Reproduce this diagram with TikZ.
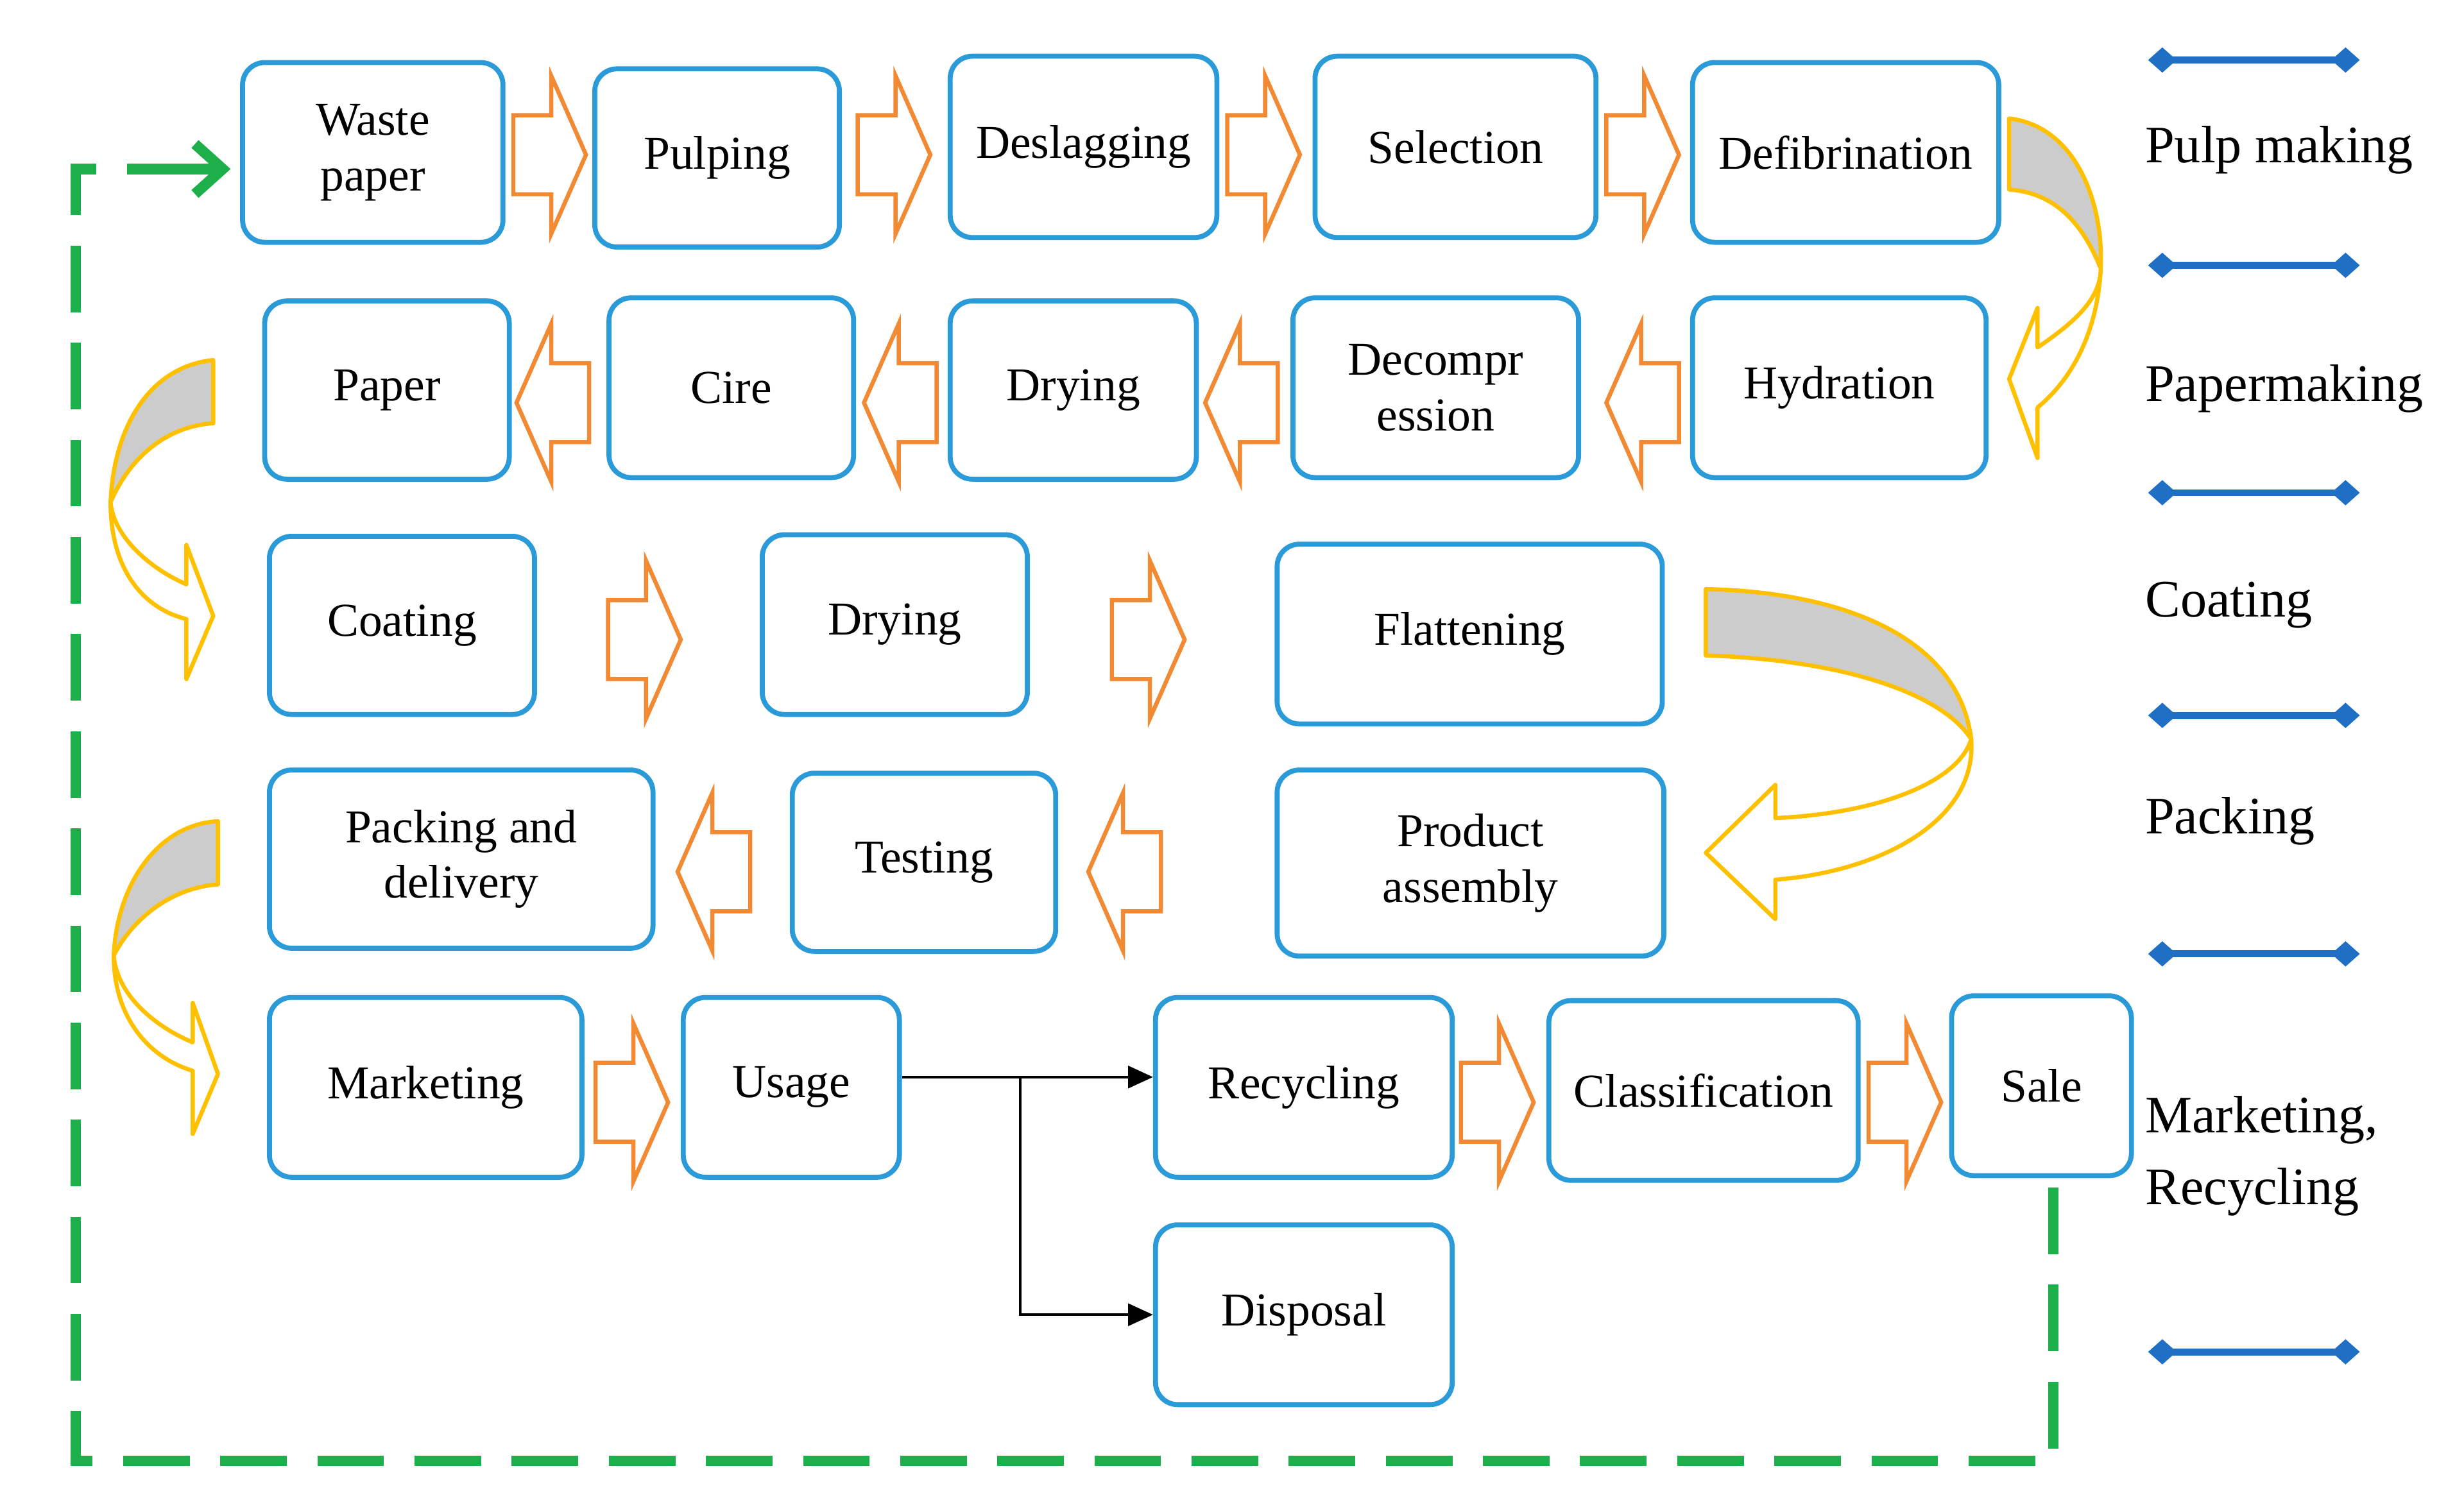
\documentclass[tikz,border=0pt]{standalone}
\usepackage{fontspec}
\setmainfont{Liberation Serif}
\usetikzlibrary{arrows.meta}
\definecolor{bblue}{HTML}{2A9AD8}
\definecolor{oor}{HTML}{F28A33}
\definecolor{yel}{HTML}{FFC000}
\definecolor{lblue}{HTML}{1F6FC5}
\definecolor{ggreen}{HTML}{1DB04A}
\tikzset{
 box/.style={draw=bblue,line width=1.8pt,rounded corners=8pt,align=center,font=\fontsize{17}{20}\selectfont,inner sep=0pt},
 oarr/.style={draw=oor,line width=1.5pt,fill=white,line join=miter},
 carr/.style={draw=yel,line width=1.5pt},
 leg/.style={draw=lblue,line width=2.5pt},
 legt/.style={anchor=west,font=\fontsize{19}{26}\selectfont,align=left},
 rarr/.pic={\draw[oarr] (-23,-25)--(1,-25)--(1,-50)--(23,0)--(1,50)--(1,25)--(-23,25)--cycle;}
}
\newcommand{\bx}[6]{\node[box,minimum width={(#4-#2)*0.02cm-1.8pt},minimum height={(#5-#3)*0.02cm-1.8pt}] (#1) at ({(#2+#4)/2},{(#3+#5)/2}) {#6};}
\newcommand{\legline}[1]{\draw[leg] (1368,#1)--(1486,#1);
 \fill[lblue] (1360,#1)--(1369,#1-8)--(1378,#1)--(1369,#1+8)--cycle;
 \fill[lblue] (1476,#1)--(1485,#1-8)--(1494,#1)--(1485,#1+8)--cycle;}
\begin{document}
\begin{tikzpicture}[x=0.02cm,y=-0.02cm]
\useasboundingbox (0,0) rectangle (1560,944);
% green loop
\draw[ggreen,line width=3.8pt,dash pattern=on 24pt off 11pt] (1300,752)--(1300,925)--(48,925)--(48,107)--(100,107);
\draw[ggreen,line width=3.8pt,-{Straight Barb[length=10pt,width=18pt,line width=3.8pt]}] (100,107)--(146,107);
% boxes
\bx{w}{152}{38}{320}{155}{Waste\\paper}
\bx{pu}{375}{42}{533}{158}{Pulping}
\bx{de}{600}{34}{772}{152}{Deslagging}
\bx{se}{831}{34}{1012}{152}{Selection}
\bx{df}{1070}{38}{1267}{155}{Defibrination}
\bx{pa}{166}{189}{324}{305}{Paper}
\bx{ci}{384}{187}{542}{304}{Cire}
\bx{dr}{600}{189}{759}{305}{Drying}
\bx{dc}{817}{187}{1001}{304}{Decompr\\ession}
\bx{hy}{1070}{187}{1259}{304}{Hydration}
\bx{co}{169}{338}{340}{454}{Coating}
\bx{dr2}{481}{337}{652}{454}{Drying}
\bx{fl}{807}{343}{1054}{460}{Flattening}
\bx{pd}{169}{486}{415}{602}{Packing and\\delivery}
\bx{te}{500}{488}{670}{604}{Testing}
\bx{pr}{807}{486}{1055}{607}{Product\\assembly}
\bx{ma}{169}{630}{370}{747}{Marketing}
\bx{us}{431}{630}{571}{747}{Usage}
\bx{re}{730}{630}{921}{747}{Recycling}
\bx{cl}{979}{632}{1178}{749}{Classification}
\bx{sa}{1234}{629}{1351}{746}{Sale}
\bx{di}{730}{774}{921}{891}{Disposal}
% orange arrows
\pic at (348,98) {rarr}; \pic at (566,98) {rarr}; \pic at (800,98) {rarr}; \pic at (1040,98) {rarr};
\pic[rotate=180] at (1040,255) {rarr}; \pic[rotate=180] at (786,255) {rarr}; \pic[rotate=180] at (570,255) {rarr}; \pic[rotate=180] at (350,255) {rarr};
\pic at (408,405) {rarr}; \pic at (727,405) {rarr};
\pic[rotate=180] at (712,552) {rarr}; \pic[rotate=180] at (452,552) {rarr};
\pic at (400,698) {rarr}; \pic at (948,698) {rarr}; \pic at (1206,698) {rarr};
% curved arrows
\fill[gray!40] (1272,75) .. controls (1315,80) and (1332,130) .. (1330,170) .. controls (1318,140) and (1300,122) .. (1272,120) -- cycle;
\draw[carr,line join=round] (1272,75) .. controls (1315,80) and (1332,130) .. (1330,170) .. controls (1328,210) and (1312,240) .. (1290,258) -- (1290,290) -- (1272,240) -- (1290,195) -- (1290,220) .. controls (1312,205) and (1330,190) .. (1330,170) .. controls (1318,140) and (1300,122) .. (1272,120) -- cycle;
\fill[gray!40] (135,228) .. controls (95,232) and (72,270) .. (70,318) .. controls (82,290) and (105,270) .. (135,268) -- cycle;
\draw[carr,line join=round] (135,228) .. controls (95,232) and (72,270) .. (70,318) .. controls (70,360) and (90,385) .. (118,392) -- (118,430) -- (135,390) -- (118,345) -- (118,370) .. controls (95,360) and (72,340) .. (70,318) .. controls (82,290) and (105,270) .. (135,268) -- cycle;
\fill[gray!40] (1080,373) .. controls (1170,375) and (1240,405) .. (1248,468) .. controls (1230,440) and (1170,418) .. (1080,415) -- cycle;
\draw[carr,line join=round] (1080,373) .. controls (1170,375) and (1240,405) .. (1248,468) .. controls (1252,520) and (1190,552) .. (1124,557) -- (1124,582) -- (1080,540) -- (1124,497) -- (1124,518) .. controls (1190,515) and (1240,495) .. (1248,468) .. controls (1230,440) and (1170,418) .. (1080,415) -- cycle;
\fill[gray!40] (138,520) .. controls (100,522) and (74,560) .. (72,605) .. controls (85,580) and (110,562) .. (138,560) -- cycle;
\draw[carr,line join=round] (138,520) .. controls (100,522) and (74,560) .. (72,605) .. controls (72,645) and (95,670) .. (122,678) -- (122,718) -- (138,680) -- (122,635) -- (122,660) .. controls (98,650) and (74,630) .. (72,605) .. controls (85,580) and (110,562) .. (138,560) -- cycle;
% usage connectors
\coordinate (br) at (646,682);
\draw[line width=1pt,-{Triangle[length=9pt,width=8pt]}] (us.east |- br) -- (re.west |- br);
\draw[line width=1pt,-{Triangle[length=9pt,width=8pt]}] (br) |- (di.west);
% legend
\legline{38}\legline{168}\legline{312}\legline{453}\legline{604}\legline{856}
\node[legt] (l1) at (1352,95) {Pulp making};
\node[legt] (l2) at (1352,246) {Papermaking};
\node[legt] (l3) at (1352,383) {Coating};
\node[legt] (l4) at (1352,520) {Packing};
\node[legt] (l5) at (1352,732) {Marketing,\\Recycling};
\end{tikzpicture}
\end{document}
